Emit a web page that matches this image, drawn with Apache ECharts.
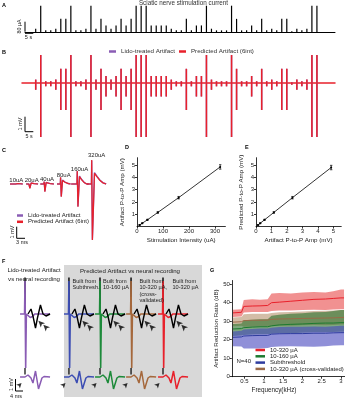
<!DOCTYPE html>
<html>
<head>
<meta charset="utf-8">
<script src="https://cdn.jsdelivr.net/npm/echarts@6/dist/echarts.min.js"></script>
<style>html,body{margin:0;padding:0;background:#fff}#chart{width:345px;height:400px}</style>
</head>
<body>
<div id="chart"></div>
<script>
var FONT = 'Liberation Sans, Arial, sans-serif';

// A, B: stimulation current per pulse (uA) and artifact peaks per level (mV)
var stimAmp = [40,320,20,20,40,160,160,320,20,20,40,320,40,160,80,40,80,160,80,160,320,320,320,80,80,80,80,40,20,20,160,20,80,80,320,40,20,20,20,320,160,20,20,80,20,160,20,40,20,160,160,10,40,20,40,320,320];
var artUp = {10:0.06, 20:0.12, 40:0.23, 80:0.47, 160:0.95, 320:1.87};
var artDown = {10:-0.11, 20:-0.22, 40:-0.45, 80:-0.9, 160:-1.8, 320:-3.6};

// C: artifact waveforms, [ms from pulse, mV]
var cLabels = ['10uA','20uA','40uA','80uA','160uA','320uA'];
var cSpikeMs = [4.0, 8.7, 14.1, 20.0, 26.0, 31.2];
var cPred = [
  [[-2.2,0],[-0.2,0],[0,0.05],[0.2,-0.17],[0.6,0.03],[1.5,0.02],[2.4,0]],
  [[-1.1,0],[-0.1,0],[0,0.17],[0.25,-0.37],[0.7,0.08],[1.8,0.03],[3.2,0]],
  [[-1.4,0],[-0.1,0],[0,0.2],[0.25,-0.66],[0.7,0.12],[2,0.04],[3.5,0]],
  [[-1.3,0],[-0.1,0],[0,0.58],[0.25,-1.1],[0.7,0.3],[1.6,0.15],[2.8,0.03],[3.6,0]],
  [[-2.2,0],[-0.1,0],[0,1.12],[0.25,-1.96],[0.8,0.63],[1.6,0.35],[2.6,0.1],[3.4,0],[4.1,0]],
  [[-1.7,0],[-0.1,0],[0,2.07],[0.25,-4.83],[1.0,0.92],[2,0.6],[3,0.3],[4,0.1],[5.2,0]]
];
var cLido = [
  [[-2.2,0],[-0.2,0],[0,0.05],[0.2,-0.16],[0.6,0.03],[1.5,0.02],[2.4,0]],
  [[-1.1,0],[-0.1,0],[0,0.16],[0.25,-0.36],[0.7,0.09],[1.8,0.03],[3.2,0]],
  [[-1.4,0],[-0.1,0],[0,0.21],[0.25,-0.64],[0.7,0.14],[2,0.05],[3.5,0]],
  [[-1.3,0],[-0.1,0],[0,0.56],[0.25,-1.08],[0.7,0.34],[1.6,0.17],[2.8,0.04],[3.6,0]],
  [[-2.2,0],[-0.1,0],[0,1.1],[0.25,-1.93],[0.8,0.68],[1.6,0.38],[2.6,0.12],[3.4,0],[4.1,0]],
  [[-1.7,0],[-0.1,0],[0,2.03],[0.25,-4.8],[1.0,0.98],[2,0.64],[3,0.33],[4,0.12],[5.2,0]]
];

// D, E: peak-to-peak amplitudes
var dIntensity = [10, 20, 40, 80, 160, 320];
var dAmp = [0.13, 0.27, 0.55, 1.15, 2.35, 4.85];
var dErr = [0.02, 0.03, 0.04, 0.06, 0.1, 0.18];
var ePred = [0.13, 0.27, 0.55, 1.15, 2.35, 4.8];
var eErr = [0.02, 0.03, 0.04, 0.06, 0.1, 0.18];

// F: artifact vs neural recording, [ms from pulse, mV]
var fColors = ['#8a5cb4', '#3c4db3', '#1d8a3a', '#a5683c', '#e8212b'];
var fSpikeMs = [10, 39.3, 60, 80.7, 102];
var fArtifact = [[-3.3,0],[-0.3,0],[0,3.3],[0.45,-5.4],[0.9,0],[2,-0.2],[3.5,-0.35],[5,-0.25],[6.5,0],[16.7,0]];
var fStimTip = [[-0.1,0],[0,3.65],[0.12,0]];
var fNeural = [[2,0],[4,0.5],[5.3,-0.2],[7,-1.4],[8.3,-0.4],[10.3,0.9],[12,0],[14,-0.2],[16.7,0]];
var fResidual = [[-3.3,0],[0,0],[2,0.2],[4,-0.1],[5.3,-0.6],[7,0.6],[9,-1.2],[11.3,-0.1],[12.7,0.05],[16.7,0]];
var fResidualTick = [[0,0.25],[0,0.9]];
var fArrowsTop = [[8.9,-0.67],[12.2,-1.07]];
var fArrowBottom = [[-2.3,-0.6]];

// G: artifact reduction ratio (dB) vs frequency (kHz)
var gFreq = [0.2, 0.42, 0.48, 0.7, 0.9, 1.1, 1.2, 1.4, 1.7, 2.0, 2.3, 2.6, 2.8, 3.0, 3.08];
var g320Mean = [34.5, 34.8, 38.0, 38.2, 38.3, 38.5, 40.0, 40.3, 40.8, 41.3, 41.8, 42.0, 42.3, 42.6, 42.6];
var g320High = [36.2, 36.5, 41.5, 41.8, 41.6, 41.8, 45.0, 45.3, 45.0, 45.5, 45.8, 45.5, 46.2, 47.2, 47.2];
var g320Low = [32.3, 32.5, 34.7, 35.0, 35.0, 35.0, 35.5, 35.8, 35.8, 36.0, 36.2, 36.0, 36.3, 36.5, 36.5];
var gCvMean = [29.5, 29.7, 30.3, 30.5, 30.5, 30.6, 31.0, 31.2, 31.3, 31.5, 31.6, 31.7, 31.8, 32.0, 32.0];
var gCvHigh = [32.0, 32.3, 33.8, 34.0, 34.0, 34.0, 34.5, 34.8, 35.0, 35.3, 35.5, 35.6, 35.8, 36.0, 36.0];
var gCvLow = [27.3, 27.5, 27.0, 27.0, 27.2, 27.2, 27.3, 27.5, 27.5, 27.8, 28.0, 27.8, 28.0, 28.2, 28.2];
var g160Mean = [25.8, 26.0, 26.5, 26.8, 27.0, 27.0, 27.5, 28.0, 28.3, 28.5, 28.8, 29.0, 29.0, 29.2, 29.2];
var g160High = [28.5, 28.8, 30.5, 30.8, 31.0, 31.0, 33.0, 33.5, 34.0, 34.3, 34.8, 35.0, 35.5, 36.0, 36.0];
var g160Low = [22.0, 22.3, 22.5, 22.8, 23.0, 23.0, 23.2, 23.5, 23.5, 23.8, 24.0, 24.0, 24.2, 24.3, 24.3];
var gSubMean = [21.3, 21.5, 22.0, 22.2, 22.3, 22.3, 23.0, 23.2, 23.3, 23.3, 23.5, 23.5, 23.7, 23.8, 23.8];
var gSubHigh = [24.5, 24.8, 25.5, 25.8, 26.0, 26.0, 26.5, 26.8, 27.0, 27.0, 27.2, 27.0, 27.3, 27.5, 27.5];
var gSubLow = [16.5, 16.3, 15.3, 15.3, 15.3, 15.5, 16.0, 16.3, 16.5, 16.3, 16.2, 16.5, 16.8, 17.0, 17.0];
var gTicks = [0.5, 1, 1.5, 2, 2.5, 3];

var myChart = echarts.init(document.getElementById('chart'), null, {renderer: 'canvas'});

function shift(arr, t0) {
  return arr.map(function (p) { return [p[0] + t0, p[1]]; });
}
function pairs(xs, ys) {
  return xs.map(function (x, i) { return [x, ys[i]]; });
}

var grids = [
  {left: 25, top: 5.7, width: 310, height: 26.3},
  {left: 22, top: 55, width: 313, height: 82},
  {left: 5, top: 155, width: 105.6, height: 90},
  {left: 137, top: 157.7, width: 88.4, height: 68.9},
  {left: 256, top: 157.7, width: 85.25, height: 68.9},
  {left: 10, top: 274, width: 195, height: 100},
  {left: 10, top: 365, width: 195, height: 30},
  {left: 231.8, top: 280.5, width: 113, height: 96.2}
];
grids.forEach(function (g) { g.containLabel = false; g.outerBoundsMode = 'none'; });

function hidden(g, min, max) {
  return {type: 'value', gridIndex: g, min: min, max: max, show: false};
}
function baseline(g, min, max, color, w) {
  return {type: 'value', gridIndex: g, min: min, max: max,
    axisLine: {onZero: true, lineStyle: {color: color, width: w}},
    axisTick: {show: false}, axisLabel: {show: false}, splitLine: {show: false}};
}
function sciAxis(g, min, max, interval, name, gap, isY) {
  return {type: 'value', gridIndex: g, min: min, max: max, interval: interval,
    name: name, nameLocation: 'middle', nameGap: gap, nameRotate: isY ? 90 : 0,
    nameTextStyle: {fontSize: 6.2, color: '#222', fontFamily: FONT},
    axisLine: {onZero: false, lineStyle: {color: '#000', width: 0.8}},
    axisTick: {length: 2, lineStyle: {color: '#000', width: 0.8}},
    axisLabel: {fontSize: 6, color: '#222', margin: 2, fontFamily: FONT,
      showMinLabel: !isY, showMaxLabel: false},
    splitLine: {show: false}};
}

var xAxes = [
  baseline(0, -2.13, 59.6, '#000', 1),
  baseline(1, -2.73, 59.6, '#e8212b', 1.5),
  hidden(2, 0, 38),
  sciAxis(3, 0, 340, 100, 'Stimulation Intensity (uA)', 10.5, false),
  sciAxis(4, 0, 5.5, 1, 'Artifact P-to-P Amp (mV)', 10.5, false),
  hidden(5, 0, 130),
  hidden(6, 0, 130),
  {type: 'value', gridIndex: 7, min: 0.17, max: 3.1,
    axisLine: {onZero: false, lineStyle: {color: '#000', width: 0.8}},
    axisTick: {length: 2, customValues: gTicks, lineStyle: {color: '#000', width: 0.8}},
    axisLabel: {fontSize: 6, color: '#222', margin: 2, fontFamily: FONT, customValues: gTicks},
    splitLine: {show: false}}
];
var yAxes = [
  hidden(0, 0, 320),
  hidden(1, -3.6, 1.87),
  hidden(2, -5.26, 2.5),
  sciAxis(3, 0, 5.6, 1, 'Artifact P-to-P Amp (mV)', 12, true),
  sciAxis(4, 0, 5.6, 1, 'Predicted P-to-P Amp (mV)', 12, true),
  hidden(5, -6, 4),
  hidden(6, -1.8, 1.2),
  sciAxis(7, 0, 52, 10, 'Artifact Reduction Ratio (dB)', 10.5, true)
];
yAxes[7].axisLabel.showMinLabel = true;

var series = [];

// A
series.push({type: 'bar', xAxisIndex: 0, yAxisIndex: 0, barWidth: 1.2, silent: true,
  itemStyle: {color: '#000'}, data: stimAmp.map(function (a, i) { return [i, a]; })});

// B
[['Lido-treated Artifact', '#8a5cb4', 'lido'], ['Predicted Artifact (6int)', '#e8212b', 'pred']].forEach(function (s) {
  series.push({name: s[0], type: 'bar', xAxisIndex: 1, yAxisIndex: 1, stack: s[2], barWidth: 1.5, barGap: '-100%',
    silent: true, itemStyle: {color: s[1]}, data: stimAmp.map(function (a, i) { return [i, artUp[a]]; })});
  series.push({name: s[0], type: 'bar', xAxisIndex: 1, yAxisIndex: 1, stack: s[2], barWidth: 1.5, barGap: '-100%',
    silent: true, itemStyle: {color: s[1]}, data: stimAmp.map(function (a, i) { return [i, artDown[a]]; })});
});

// C
cLido.forEach(function (tr, i) {
  series.push({name: 'Lido-treated Artifact', type: 'line', xAxisIndex: 2, yAxisIndex: 2, symbol: 'none',
    color: '#8a5cb4', lineStyle: {width: 1.4}, data: shift(tr, cSpikeMs[i]), z: 2});
});
cPred.forEach(function (tr, i) {
  series.push({name: 'Predicted Artifact (6int)', type: 'line', xAxisIndex: 2, yAxisIndex: 2, symbol: 'none',
    color: '#e8212b', lineStyle: {width: 1.2}, data: shift(tr, cSpikeMs[i]), z: 3});
});

// D, E
function errBars(xs, ys, es, g) {
  return {type: 'custom', xAxisIndex: g, yAxisIndex: g, silent: true, z: 4,
    data: xs.map(function (x, i) { return [x, ys[i] - es[i], ys[i] + es[i]]; }),
    renderItem: function (params, api) {
      var lo = api.coord([api.value(0), api.value(1)]);
      var hi = api.coord([api.value(0), api.value(2)]);
      var st = {stroke: '#000', lineWidth: 0.7};
      return {type: 'group', children: [
        {type: 'line', shape: {x1: lo[0], y1: lo[1], x2: hi[0], y2: hi[1]}, style: st},
        {type: 'line', shape: {x1: lo[0] - 1.2, y1: lo[1], x2: lo[0] + 1.2, y2: lo[1]}, style: st},
        {type: 'line', shape: {x1: hi[0] - 1.2, y1: hi[1], x2: hi[0] + 1.2, y2: hi[1]}, style: st}
      ]};
    }};
}
series.push({type: 'line', xAxisIndex: 3, yAxisIndex: 3, symbol: 'circle', symbolSize: 2, color: '#000',
  lineStyle: {width: 0.8}, data: pairs(dIntensity, dAmp), silent: true});
series.push(errBars(dIntensity, dAmp, dErr, 3));
series.push({type: 'line', xAxisIndex: 4, yAxisIndex: 4, symbol: 'circle', symbolSize: 2, color: '#000',
  lineStyle: {width: 0.8}, data: pairs(dAmp, ePred), silent: true});
series.push(errBars(dAmp, ePred, eErr, 4));

// F
fSpikeMs.forEach(function (t0, i) {
  series.push({type: 'line', xAxisIndex: 5, yAxisIndex: 5, symbol: 'none', silent: true, z: 2,
    lineStyle: {color: '#000', width: 1.4}, data: shift(fStimTip, t0)});
  series.push({type: 'line', xAxisIndex: 5, yAxisIndex: 5, symbol: 'none', silent: true, z: 3,
    lineStyle: {color: fColors[i], width: 1.6}, data: shift(fArtifact, t0)});
  series.push({type: 'line', xAxisIndex: 5, yAxisIndex: 5, symbol: 'none', silent: true, z: 4,
    lineStyle: {color: '#000', width: 1.4}, data: shift(fNeural, t0)});
  series.push({type: 'scatter', xAxisIndex: 5, yAxisIndex: 5, symbol: 'arrow', symbolSize: [4.5, 6.5],
    symbolRotate: 45, silent: true, z: 5, itemStyle: {color: '#000'}, data: shift(fArrowsTop, t0)});
  series.push({type: 'line', xAxisIndex: 6, yAxisIndex: 6, symbol: 'none', silent: true, z: 3,
    lineStyle: {color: fColors[i], width: 1.5}, data: shift(fResidual, t0)});
  series.push({type: 'line', xAxisIndex: 6, yAxisIndex: 6, symbol: 'none', silent: true, z: 4,
    lineStyle: {color: '#000', width: 1.2}, data: shift(fResidualTick, t0)});
  series.push({type: 'scatter', xAxisIndex: 6, yAxisIndex: 6, symbol: 'arrow', symbolSize: [4, 5],
    symbolRotate: -45, silent: true, z: 5, itemStyle: {color: '#000'}, data: shift(fArrowBottom, t0)});
});

// G: shaded bands drawn as polygons through the axis scales
function band(low, high, fill) {
  series.push({type: 'custom', xAxisIndex: 7, yAxisIndex: 7, silent: true, z: 2,
    data: pairs(gFreq, high),
    renderItem: function (params, api) {
      if (params.dataIndex !== 0) { return; }
      var pts = [], i;
      for (i = 0; i < gFreq.length; i++) { pts.push(api.coord([gFreq[i], high[i]])); }
      for (i = gFreq.length - 1; i >= 0; i--) { pts.push(api.coord([gFreq[i], low[i]])); }
      return {type: 'polygon', shape: {points: pts}, style: {fill: fill}};
    }});
}
band(gCvLow, gCvHigh, 'rgba(175,135,95,0.55)');
band(g160Low, g160High, 'rgba(40,110,40,0.6)');
band(gSubLow, gSubHigh, 'rgba(70,70,190,0.6)');
band(g320Low, g320High, 'rgba(232,72,72,0.6)');
[['10-320 µA', g320Mean, '#e8212b'], ['10-160 µA', g160Mean, '#1d7a30'],
 ['Subthreshold', gSubMean, '#2e3c9e'], ['10-320 µA (cross-validated)', gCvMean, '#9a6a48']].forEach(function (s) {
  series.push({name: s[0], type: 'line', xAxisIndex: 7, yAxisIndex: 7, symbol: 'none', silent: true, z: 3,
    color: s[2], lineStyle: {width: 1}, data: pairs(gFreq, s[1])});
});

// text and scale bars
var graphic = [];
function txt(x, y, s, size, opt) {
  opt = opt || {};
  graphic.push({type: 'text', x: x, y: y, rotation: opt.rot ? Math.PI / 2 : 0, silent: true, z: 10,
    style: {text: s, fill: opt.color || '#222', fontSize: size, fontFamily: FONT,
      fontWeight: opt.bold ? 'bold' : 'normal', textAlign: opt.align || 'center',
      verticalAlign: 'middle', textVerticalAlign: 'middle'}});
}
function seg(x1, y1, x2, y2) {
  graphic.push({type: 'line', silent: true, z: 10, shape: {x1: x1, y1: y1, x2: x2, y2: y2},
    style: {stroke: '#000', lineWidth: 1}});
}
graphic.push({type: 'rect', silent: true, z: -10, shape: {x: 64, y: 265, width: 138, height: 132},
  style: {fill: '#d8d8d8'}});

[['A', 2, 5], ['B', 2, 52], ['C', 2, 150], ['D', 125, 147], ['E', 245, 147], ['F', 2, 261], ['G', 210, 270]]
  .forEach(function (p) { txt(p[1], p[2], p[0], 5.5, {bold: true, align: 'left', color: '#000'}); });

txt(183.5, 3.2, 'Sciatic nerve stimulation current', 6.3, {color: '#333'});
seg(25, 21.7, 25, 31.7); seg(25, 33.3, 33.3, 33.3);
txt(20, 26.5, '80 µA', 5.3, {rot: true}); txt(28.5, 37.7, '5 s', 5.5);
seg(25, 116.7, 25, 131.7); seg(25, 131.7, 33.3, 131.7);
txt(20.5, 124, '1 mV', 5.5, {rot: true}); txt(29, 136.7, '5 s', 5.3);
seg(16.7, 226.7, 16.7, 238.3); seg(16.7, 238.3, 25, 238.3);
txt(12.5, 232, '1 mV', 5.5, {rot: true}); txt(22, 242.5, '3 ms', 5.5);
seg(15.5, 379, 15.5, 391); seg(15.5, 391, 23, 391);
txt(11, 384.5, '1 mV', 5.5, {rot: true}); txt(16, 396.5, '4 ms', 5.5);

var cLabelPos = [[16.3, 180.7], [31.7, 180], [47, 179], [63.7, 175.7], [79.5, 169.3], [96.7, 155]];
cLabels.forEach(function (s, i) { txt(cLabelPos[i][0], cLabelPos[i][1], s, 6); });

txt(34, 270.5, 'Lido-treated Artifact', 6.1);
txt(34, 279.5, 'vs neural recording', 6.1);
txt(130, 271, 'Predicted Artifact vs neural recording', 6.1);
var fHead = [
  [72.5, ['Built from', 'Subthresh.']],
  [103, ['Built from', '10-160 µA']],
  [139.5, ['Built from', '10-320 µA,', '(cross-', 'validated)']],
  [172.5, ['Built from', '10-320 µA']]
];
fHead.forEach(function (h) {
  h[1].forEach(function (s, k) { txt(h[0], 281.7 + k * 6.2, s, 5.6, {align: 'left'}); });
});
txt(236.5, 361, 'N=40', 6, {align: 'left'});
txt(274, 390, 'Frequency(kHz)', 6.3);

var option = {
  animation: false,
  backgroundColor: '#fff',
  textStyle: {fontFamily: FONT},
  grid: grids,
  xAxis: xAxes,
  yAxis: yAxes,
  legend: [
    {left: 109, top: 48.5, padding: 0, itemWidth: 7, itemHeight: 2.5, itemGap: 4, icon: 'rect',
      selectedMode: false, textStyle: {fontSize: 6.2, color: '#333', fontFamily: FONT},
      data: ['Lido-treated Artifact', 'Predicted Artifact (6int)']},
    {left: 17, top: 212.5, padding: 0, orient: 'vertical', itemWidth: 6, itemHeight: 2.5, itemGap: 0.3, icon: 'rect',
      selectedMode: false, textStyle: {fontSize: 6, color: '#222', fontFamily: FONT},
      data: ['Lido-treated Artifact', 'Predicted Artifact (6int)']},
    {left: 255.5, top: 347, padding: 0, orient: 'vertical', itemWidth: 9.5, itemHeight: 2.5, itemGap: 0.3, icon: 'rect',
      selectedMode: false, textStyle: {fontSize: 6, color: '#222', fontFamily: FONT},
      data: ['10-320 µA', '10-160 µA', 'Subthreshold', '10-320 µA (cross-validated)']}
  ],
  graphic: graphic,
  series: series
};
myChart.setOption(option);
</script>
</body>
</html>
